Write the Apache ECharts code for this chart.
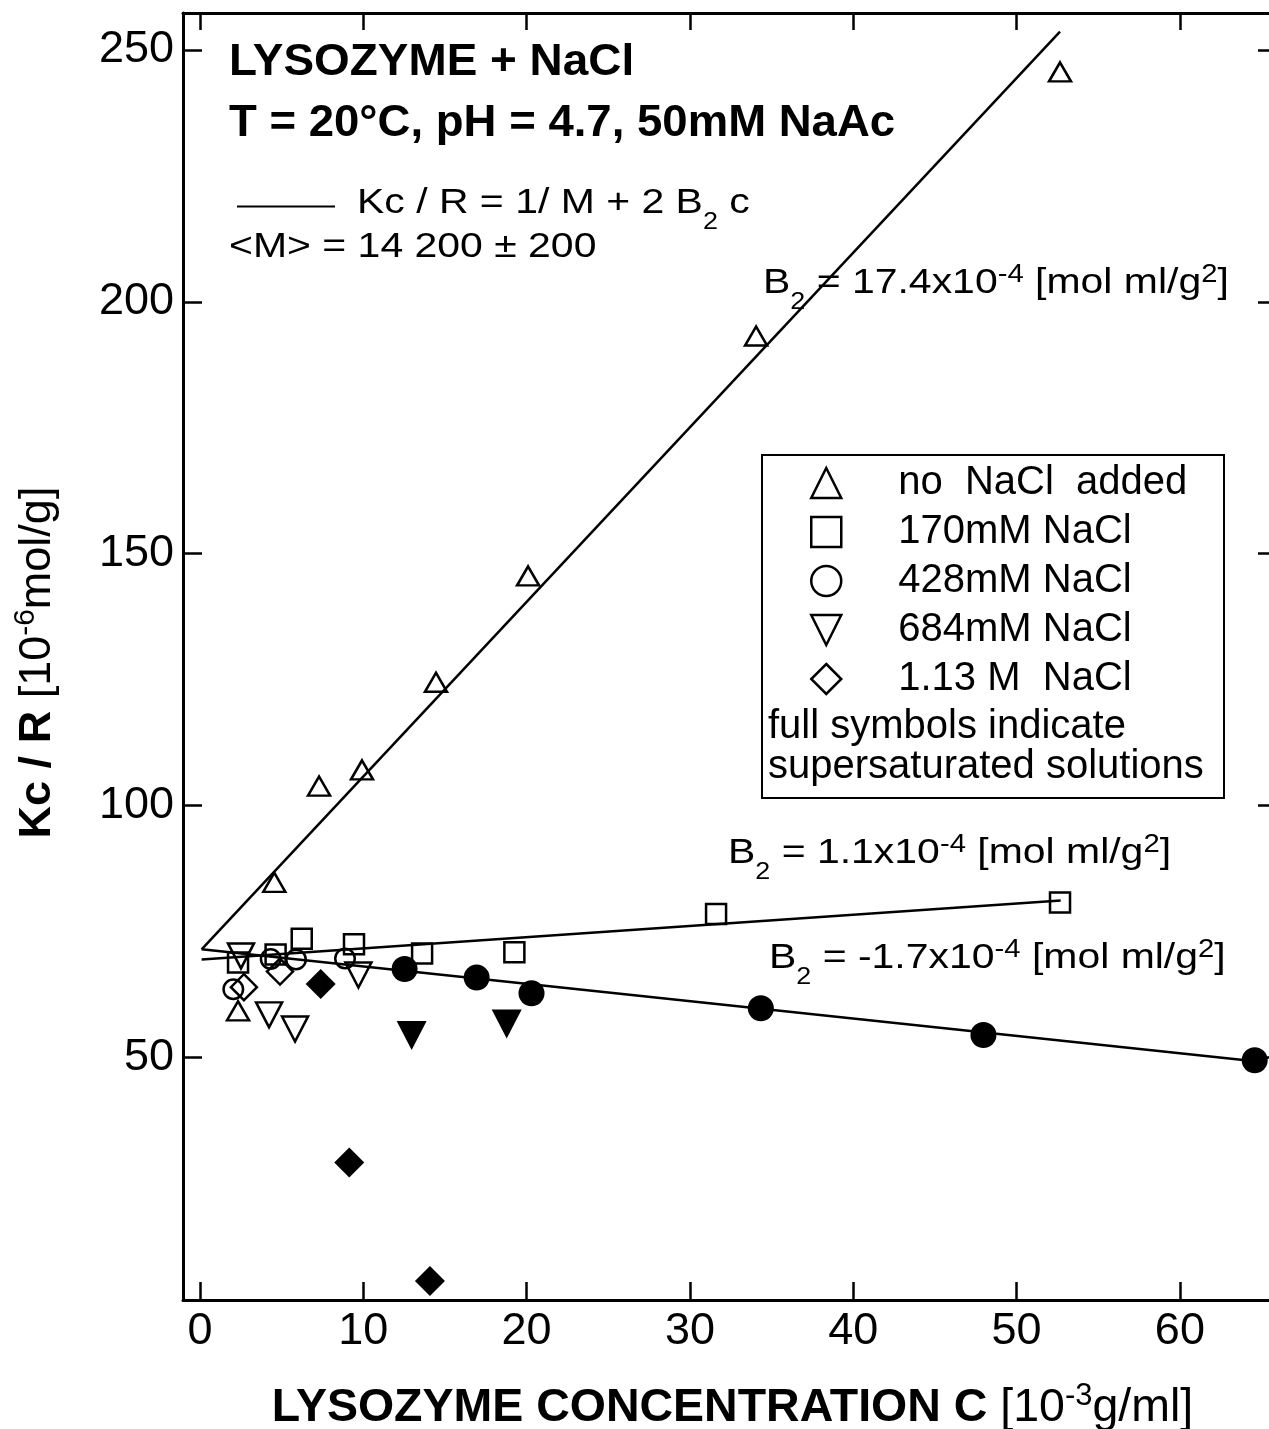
<!DOCTYPE html>
<html>
<head>
<meta charset="utf-8">
<script src="https://cdn.jsdelivr.net/npm/echarts@6/dist/echarts.min.js"></script>
<style>
  html, body { margin: 0; padding: 0; background: #fff; }
  #chart { width: 1269px; height: 1429px; }
</style>
</head>
<body>
<div id="chart"></div>
<script>
// Axis ticks
const xTicks = [0, 10, 20, 30, 40, 50, 60];
const yTicks = [50, 100, 150, 200, 250];

// Kc/R [1e-6 mol/g] against lysozyme concentration [1e-3 g/ml]
const noSalt       = [[2.33, 59.3], [4.55, 84.8], [7.29, 103.9], [9.92, 107.1], [14.45, 124.5], [20.09, 145.6], [34.05, 193.2], [52.66, 245.6]];
const salt170      = [[2.33, 68.9], [4.63, 70.5], [6.23, 73.6], [9.43, 72.5], [13.6, 70.7], [19.25, 70.9], [31.6, 78.5], [52.66, 80.8]];
const salt428Open  = [[2.04, 63.6], [4.33, 69.6], [5.88, 69.5], [8.88, 69.7]];
const salt428Full  = [[12.53, 67.6], [16.94, 65.9], [20.3, 62.8], [34.34, 59.8], [47.97, 54.5], [64.58, 49.5]];
const salt684Open  = [[2.51, 70.2], [4.23, 58.5], [5.82, 55.7], [9.7, 66.4]];
const salt684Full  = [[12.96, 54.4], [18.78, 56.7]];
const salt1130Open = [[2.69, 64.0], [4.9, 67.1]];
const salt1130Full = [[7.39, 64.6], [9.14, 29.2], [14.08, 5.7]];

// Fitted straight lines Kc/R = 1/M + 2 B2 c (end points)
const fitNoSalt = [[0.1, 71.5], [52.66, 253.6]];
const fit170    = [[0.1, 69.5], [52.7, 81.2]];
const fit428    = [[0.1, 71.5], [64.6, 49.3]];

const legendNames = ['no  NaCl  added', '170mM NaCl', '428mM NaCl', '684mM NaCl', '1.13 M  NaCl'];

const FONT = "'Liberation Sans', Arial, Helvetica, sans-serif";

const chart = echarts.init(document.getElementById('chart'), null, { renderer: 'canvas' });

const openStyle = { color: 'transparent', borderColor: '#000', borderWidth: 2.5, opacity: 1 };
const fullStyle = { color: '#000', borderWidth: 0, opacity: 1 };

function scatter(name, data, symbol, size, style, rotate) {
  return {
    type: 'scatter', name: name, data: data, symbol: symbol, symbolSize: size,
    symbolRotate: rotate || 0, itemStyle: style, z: 3, silent: true
  };
}
function fitLine(name, data) {
  return {
    type: 'line', name: name, data: data, symbol: 'none', z: 2, silent: true,
    lineStyle: { color: '#000', width: 2.5, opacity: 1 }
  };
}

// Annotation text: slightly wide lettering, drawn with a horizontal stretch
const ANN_SIZE = 35;
const ANN_STRETCH = 1.17;
const annRich = {
  r:   { fontSize: ANN_SIZE, fontFamily: FONT, fill: '#000', verticalAlign: 'middle' },
  sup: { fontSize: 25, fontFamily: FONT, fill: '#000', verticalAlign: 'middle', padding: [0, 0, 16, 0] },
  sub: { fontSize: 23, fontFamily: FONT, fill: '#000', verticalAlign: 'middle', padding: [40, 0, 0, 0] }
};
function annText(x, y, text) {
  return { type: 'text', x: x, y: y, scaleX: ANN_STRETCH, z: 10, silent: true,
    style: { text: text, rich: annRich, align: 'left', verticalAlign: 'middle', fill: '#000' } };
}
function plainText(x, y, text, font, stretch) {
  return { type: 'text', x: x, y: y, scaleX: stretch || 1, z: 10, silent: true,
    style: { text: text, font: font, fill: '#000', align: 'left', verticalAlign: 'middle' } };
}

// rich text for axis names
function axisNameRich(size, supSize, raise) {
  return {
    b: { fontSize: size, fontWeight: 'bold', fontFamily: FONT, color: '#000', verticalAlign: 'middle' },
    r: { fontSize: size, fontFamily: FONT, color: '#000', verticalAlign: 'middle' },
    sup: { fontSize: supSize, fontFamily: FONT, color: '#000', verticalAlign: 'middle', padding: [0, 0, raise, 0] }
  };
}

const option = {
  animation: false,
  backgroundColor: '#fff',
  grid: { left: 183, top: 13, width: 1089, height: 1287, containLabel: false, outerBoundsMode: 'none' },
  xAxis: [
    {
      type: 'value', position: 'bottom', min: -1.04, max: 65.64,
      axisLine: { show: true, onZero: false, lineStyle: { color: '#000', width: 3 } },
      axisTick: { show: true, inside: true, length: 18, customValues: xTicks, lineStyle: { color: '#000', width: 2.5 } },
      axisLabel: { show: true, customValues: xTicks, margin: 9, fontSize: 45, fontFamily: FONT, color: '#000' },
      splitLine: { show: false },
      name: '{b|LYSOZYME CONCENTRATION C }{r|[10}{sup|-3}{r|g/ml]}',
      nameLocation: 'middle', nameGap: 81,
      nameTextStyle: { color: '#000', padding: [0, 0, 0, 10], rich: axisNameRich(46.5, 31, 24) }
    },
    {
      type: 'value', position: 'top', min: -1.04, max: 65.64,
      axisLine: { show: true, onZero: false, lineStyle: { color: '#000', width: 3 } },
      axisTick: { show: true, inside: true, length: 17, customValues: xTicks, lineStyle: { color: '#000', width: 2.5 } },
      axisLabel: { show: false },
      splitLine: { show: false }
    }
  ],
  yAxis: [
    {
      type: 'value', position: 'left', min: 1.92, max: 257.3,
      axisLine: { show: true, onZero: false, lineStyle: { color: '#000', width: 3 } },
      axisTick: { show: true, inside: true, length: 19, customValues: yTicks, lineStyle: { color: '#000', width: 2.5 } },
      axisLabel: { show: true, customValues: yTicks, margin: 9, fontSize: 45, fontFamily: FONT, color: '#000' },
      splitLine: { show: false },
      name: '{b|Kc / R }{r|[10}{sup|-6}{r|mol/g]}',
      nameLocation: 'middle', nameGap: 118, nameRotate: 90,
      nameTextStyle: { color: '#000', padding: [0, 12, 0, 0], rich: axisNameRich(45, 30, 24) }
    },
    {
      type: 'value', position: 'right', min: 1.92, max: 257.3,
      axisLine: { show: true, onZero: false, lineStyle: { color: '#000', width: 3 } },
      axisTick: { show: true, inside: true, length: 14, customValues: yTicks, lineStyle: { color: '#000', width: 2.5 } },
      axisLabel: { show: false },
      splitLine: { show: false }
    }
  ],
  legend: {
    data: [
      { name: legendNames[0] },
      { name: legendNames[1] },
      { name: legendNames[2] },
      { name: legendNames[3], icon: 'path://M0,0L28,0L14,28Z' },
      { name: legendNames[4] }
    ],
    orient: 'vertical', left: 810, top: 458.5, padding: 0, itemGap: 0,
    itemWidth: 30, itemHeight: 30, selectedMode: false,
    itemStyle: { borderWidth: 2.5, opacity: 1 },
    textStyle: { fontSize: 40, fontFamily: FONT, color: '#000', lineHeight: 49, padding: [0, 0, 0, 52] }
  },
  series: [
    fitLine('fit no NaCl', fitNoSalt),
    fitLine('fit 170mM', fit170),
    fitLine('fit 428mM', fit428),
    scatter(legendNames[0], noSalt, 'triangle', [22, 19], openStyle),
    scatter(legendNames[1], salt170, 'rect', 20, openStyle),
    scatter(legendNames[2], salt428Open, 'circle', 19.5, openStyle),
    scatter(legendNames[3], salt684Open, 'triangle', [26, 25], openStyle, 180),
    scatter(legendNames[4], salt1130Open, 'diamond', 26, openStyle),
    scatter('428mM NaCl supersaturated', salt428Full, 'circle', 26, fullStyle),
    scatter('684mM NaCl supersaturated', salt684Full, 'triangle', [30, 29], fullStyle, 180),
    scatter('1.13 M NaCl supersaturated', salt1130Full, 'diamond', 30, fullStyle)
  ],
  graphic: [
    plainText(229, 62.5, 'LYSOZYME + NaCl', 'bold 45px ' + FONT, 1.02),
    plainText(229, 124, 'T = 20°C, pH = 4.7, 50mM NaAc', 'bold 45px ' + FONT, 1.012),
    { type: 'line', z: 10, silent: true, shape: { x1: 237, y1: 206.5, x2: 335, y2: 206.5 },
      style: { stroke: '#000', lineWidth: 2 } },
    annText(357, 203, '{r|Kc / R = 1/ M + 2 B}{sub|2}{r| c}'),
    plainText(229, 247, '<M> = 14 200 ± 200', ANN_SIZE + 'px ' + FONT, ANN_STRETCH),
    annText(763, 283, '{r|B}{sub|2}{r| = 17.4x10}{sup|-4}{r| [mol ml/g}{sup|2}{r|]}'),
    annText(728, 853, '{r|B}{sub|2}{r| = 1.1x10}{sup|-4}{r| [mol ml/g}{sup|2}{r|]}'),
    annText(769, 958, '{r|B}{sub|2}{r| = -1.7x10}{sup|-4}{r| [mol ml/g}{sup|2}{r|]}'),
    { type: 'rect', z: 10, silent: true, shape: { x: 762, y: 455, width: 462, height: 343 },
      style: { fill: 'none', stroke: '#000', lineWidth: 2 } },
    plainText(768, 727, 'full symbols indicate', '40px ' + FONT),
    plainText(768, 767, 'supersaturated solutions', '40px ' + FONT)
  ]
};

chart.setOption(option);
</script>
</body>
</html>
